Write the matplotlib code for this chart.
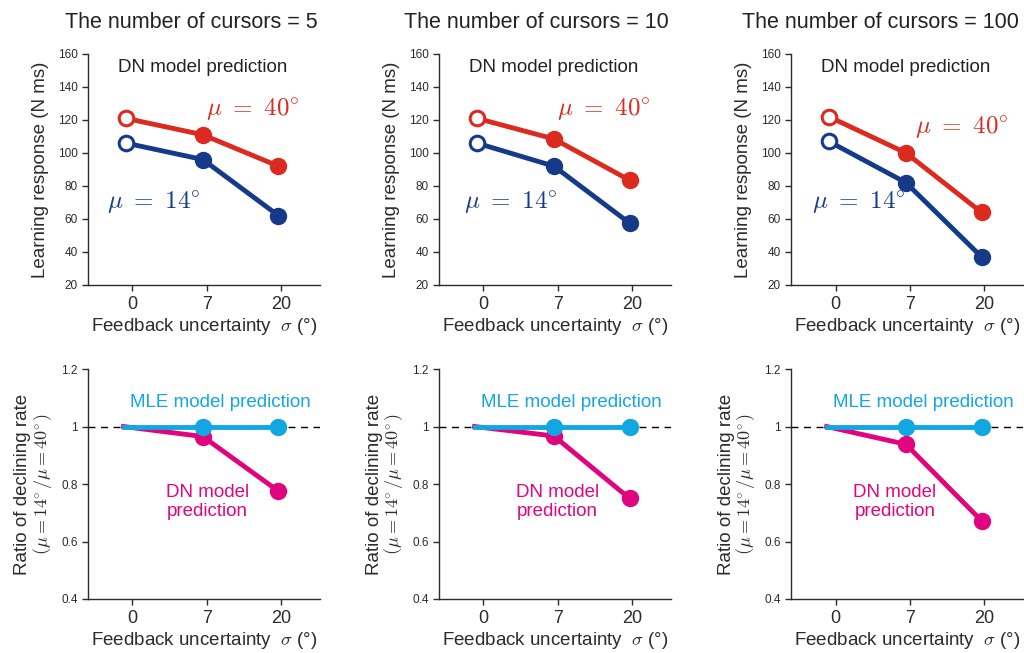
import matplotlib
matplotlib.use("Agg")
import matplotlib.pyplot as plt

plt.rcParams['font.family'] = ['Liberation Sans', 'DejaVu Sans']
plt.rcParams['mathtext.fontset'] = 'cm'

# data
cursors = [5, 10, 100]
sigma_labels = ["0", "7", "20"]
resp_40 = [[121, 111, 92], [121, 108.5, 83.5], [122, 100, 64]]
resp_14 = [[106, 96, 62], [106, 92, 57.5], [107, 82, 37]]
ratio_mle = [[1, 1, 1], [1, 1, 1], [1, 1, 1]]
ratio_dn = [[1, 0.965, 0.775], [1, 0.967, 0.75], [1, 0.938, 0.672]]

RED = "#dc2a1e"
NAVY = "#163a8a"
CYAN = "#12a6e3"
MAG = "#e0057f"
GRAY = "#2b2b2b"

xtop = [-0.09, 0.95, 1.97]
xbot = [-0.12, 0.95, 1.97]

fig = plt.figure(figsize=(10.24, 6.53), dpi=100)
lefts = [0.0859, 0.4287, 0.7725]
title_x = [191 / 1024, 536 / 1024, 880 / 1024]
mu40_pos = [(1.62, 126), (1.62, 126), (1.70, 115)]
mu14_pos = [(0.28, 70), (0.36, 70), (0.31, 70)]
dn_pos = [(1.01, 0.737), (1.0, 0.737), (0.8, 0.737)]


def style(ax):
    for s in ["top", "right"]:
        ax.spines[s].set_visible(False)
    for s in ["left", "bottom"]:
        ax.spines[s].set_color(GRAY)
        ax.spines[s].set_linewidth(1.0)
    ax.tick_params(axis='y', labelsize=8.5, colors=GRAY, length=4, width=1, direction='out')
    ax.tick_params(axis='x', labelsize=13, colors=GRAY, length=4, width=1, direction='out', pad=4)
    ax.set_xticks([0, 1, 2])
    ax.set_xticklabels(sigma_labels)
    ax.set_xlim(-0.6, 2.53)
    ax.set_xlabel(r"Feedback uncertainty  $\sigma$ (°)", fontsize=13.5, color=GRAY, labelpad=2)


for i in range(3):
    # top row
    ax = fig.add_axes([lefts[i], 0.5636, 0.2266, 0.3538])
    style(ax)
    ax.set_ylim(20, 160)
    ax.set_yticks(range(20, 161, 20))
    ax.plot(xtop, resp_40[i], color=RED, lw=3.5, zorder=2)
    ax.plot(xtop, resp_14[i], color=NAVY, lw=3.5, zorder=2)
    ax.plot(xtop[1:], resp_40[i][1:], 'o', color=RED, ms=11.5, zorder=3)
    ax.plot(xtop[1:], resp_14[i][1:], 'o', color=NAVY, ms=11.5, zorder=3)
    ax.plot(xtop[0], resp_40[i][0], 'o', mfc='white', mec=RED, mew=2.2, ms=10.5, zorder=3)
    ax.plot(xtop[0], resp_14[i][0], 'o', mfc='white', mec=NAVY, mew=2.2, ms=10.5, zorder=3)
    ax.text(0.95, 152, "DN model prediction", fontsize=13.5, color='#222222',
            ha='center', va='center')
    ax.text(mu40_pos[i][0], mu40_pos[i][1], r"$\mu\ =\ 40\!^\circ$", fontsize=18,
            color=RED, ha='center', va='center')
    ax.text(mu14_pos[i][0], mu14_pos[i][1], r"$\mu\ =\ 14\!^\circ$", fontsize=18,
            color=NAVY, ha='center', va='center')
    ax.text(-0.205, 0.5, "Learning response (N ms)", transform=ax.transAxes,
            rotation=90, ha='center', va='center', fontsize=13.5, color=GRAY)
    fig.text(title_x[i], 1 - 22 / 653, "The number of cursors = %d" % cursors[i],
             fontsize=15.5, color='#222222', ha='center', va='center')

    # bottom row
    ax = fig.add_axes([lefts[i], 0.0827, 0.2266, 0.3522])
    style(ax)
    ax.set_ylim(0.4, 1.2)
    ax.set_yticks([0.4, 0.6, 0.8, 1, 1.2])
    ax.set_yticklabels(["0.4", "0.6", "0.8", "1", "1.2"])
    ax.axhline(1, color='black', lw=1, ls=(0, (5, 4)), zorder=1)
    ax.plot(xbot, ratio_dn[i], color=MAG, lw=3.5, zorder=2)
    ax.plot(xbot[1:], ratio_dn[i][1:], 'o', color=MAG, ms=11.5, zorder=2)
    ax.plot(xbot, ratio_mle[i], color=CYAN, lw=3.5, zorder=3)
    ax.plot(xbot[1:], ratio_mle[i][1:], 'o', color=CYAN, ms=11.5, zorder=3)
    ax.text(1.18, 1.082, "MLE model prediction", fontsize=13.5, color=CYAN,
            ha='center', va='center')
    ax.text(dn_pos[i][0], dn_pos[i][1], "DN model\nprediction", fontsize=13.5,
            color=MAG, ha='center', va='center', linespacing=1.1)
    ax.text(-0.28, 0.5, "Ratio of declining rate", transform=ax.transAxes,
            rotation=90, ha='center', va='center', fontsize=13.5, color=GRAY)
    ax.text(-0.195, 0.5, r"$(\mu = 14\!^\circ / \mu = 40\!^\circ)$", transform=ax.transAxes,
            rotation=90, ha='center', va='center', fontsize=13, color=GRAY)

fig.savefig("out.png", dpi=100)
